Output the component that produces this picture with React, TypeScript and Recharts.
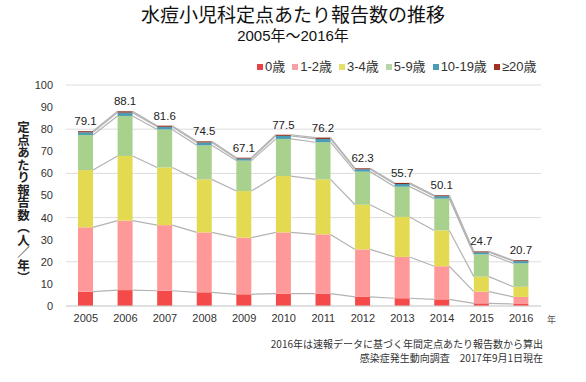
import React from 'react';
import { BarChart, Bar, XAxis, YAxis, CartesianGrid, LabelList } from 'recharts';

const years = ['2005', '2006', '2007', '2008', '2009', '2010', '2011', '2012', '2013', '2014', '2015', '2016'];
const age0 = [6.5, 7.2, 6.9, 6.2, 5.3, 5.6, 5.6, 4.1, 3.5, 3.0, 1.2, 0.9];
const age1to2 = [29.1, 31.4, 29.7, 27.1, 25.6, 27.7, 26.8, 21.5, 18.7, 15.0, 5.3, 3.2];
const age3to4 = [25.9, 29.3, 26.1, 24.0, 21.1, 25.5, 24.9, 20.2, 18.1, 16.2, 6.8, 4.6];
const age5to9 = [15.9, 18.1, 17.2, 15.4, 13.8, 16.8, 16.8, 15.0, 13.7, 14.4, 10.1, 10.6];
const age10to19 = [1.2, 1.5, 1.2, 1.3, 0.9, 1.4, 1.5, 1.1, 1.2, 1.1, 0.9, 1.0];
const age20plus = [0.5, 0.6, 0.5, 0.5, 0.4, 0.5, 0.6, 0.4, 0.5, 0.4, 0.4, 0.4];
const totals = [79.1, 88.1, 81.6, 74.5, 67.1, 77.5, 76.2, 62.3, 55.7, 50.1, 24.7, 20.7];
const yTicks = [0, 10, 20, 30, 40, 50, 60, 70, 80, 90, 100];

const series = [
  { key: 'age0', name: '0歳', color: '#f44a4a', legend: '#e8414a', values: age0 },
  { key: 'age1to2', name: '1-2歳', color: '#ff9999', legend: '#f4a0a5', values: age1to2 },
  { key: 'age3to4', name: '3-4歳', color: '#e3da52', legend: '#e5df6c', values: age3to4 },
  { key: 'age5to9', name: '5-9歳', color: '#a9d18e', legend: '#b5d6a7', values: age5to9 },
  { key: 'age10to19', name: '10-19歳', color: '#4a9bb3', legend: '#4a9bb5', values: age10to19 },
  { key: 'age20plus', name: '≥20歳', color: '#8e2c1a', legend: '#a0301f', values: age20plus },
];

const data = years.map((year, i) => {
  const row: any = { year, total: totals[i] };
  series.forEach((s) => (row[s.key] = s.values[i]));
  return row;
});

// running sums for the series lines between bars
const cum = series.map((_, s) =>
  years.map((__, i) => series.slice(0, s + 1).reduce((sum, t) => sum + t.values[i], 0))
);

const W = 586;
const H = 382;
const xAxisHeight = 30;
const yAxisWidth = 40;
const margin = { top: 85, right: 45, bottom: 46, left: 26 };
const plotW = W - margin.left - margin.right - yAxisWidth;
const plotH = H - margin.top - margin.bottom - xAxisHeight;
const Y_MAX = 100;
const step = plotW / years.length;
const pxPerUnit = plotH / Y_MAX;

const latin = '"Liberation Sans", Arial, "Noto Sans CJK JP", sans-serif';
const cjk = '"Noto Sans CJK JP", sans-serif';

const makeShape = (s: number) => (props: any) => {
  const { x, y, width, height, fill, payload } = props;
  const i = years.indexOf(payload.year);
  return (
    <g>
      <rect x={x} y={y} width={width} height={height} fill={fill} />
      {i >= 0 && i < years.length - 1 && (
        <line
          x1={x + width}
          y1={y}
          x2={x + step}
          y2={y + (cum[s][i] - cum[s][i + 1]) * pxPerUnit}
          stroke="#b3b3b3"
          strokeWidth={1.2}
        />
      )}
    </g>
  );
};

const App: React.FC = () => {
  return (
    <div style={{ position: 'absolute', left: 0, top: 0, width: W, height: H, background: '#fff', fontFamily: latin }}>
      <div style={{ position: 'absolute', left: 0, width: W, top: 4, textAlign: 'center', fontFamily: cjk, fontSize: 19, lineHeight: '19px', color: '#111' }}>
        水痘小児科定点あたり報告数の推移
      </div>
      <div style={{ position: 'absolute', left: 0, width: W, top: 28, textAlign: 'center', fontSize: 15, lineHeight: '15px', color: '#111' }}>
        2005年～2016年
      </div>

      <div style={{ position: 'absolute', left: 257, top: 60, display: 'flex', alignItems: 'center', fontSize: 13, lineHeight: '14px', color: '#333' }}>
        {series.map((s) => (
          <div key={s.key} style={{ display: 'flex', alignItems: 'center', marginRight: 7 }}>
            <span style={{ display: 'inline-block', width: 6, height: 6, background: s.legend, marginRight: 2 }} />
            <span>{s.name}</span>
          </div>
        ))}
      </div>

      <div style={{ position: 'absolute', left: 16, top: 121, writingMode: 'vertical-rl', fontFamily: cjk, fontSize: 12.5, fontWeight: 'bold', lineHeight: '14px', color: '#222' }}>
        定点あたり報告数（人／年）
      </div>

      <div style={{ position: 'absolute', top: 0, left: 0 }}>
        <BarChart width={W} height={H} data={data} margin={margin} barSize={15}>
          <CartesianGrid vertical={false} stroke="#dcdcdc" />
          <XAxis
            dataKey="year"
            height={xAxisHeight}
            tickLine={false}
            axisLine={{ stroke: '#d4d4d4' }}
            tickSize={0}
            tickMargin={8}
            tick={{ fontSize: 11, fill: '#333', fontFamily: latin }}
          />
          <YAxis
            width={yAxisWidth}
            domain={[0, Y_MAX]}
            ticks={yTicks}
            tickLine={false}
            axisLine={false}
            tickSize={0}
            tickMargin={13}
            tick={{ fontSize: 11, fill: '#333', fontFamily: latin }}
          />
          {series.map((s, idx) => (
            <Bar
              key={s.key}
              dataKey={s.key}
              name={s.name}
              stackId="a"
              fill={s.color}
              shape={makeShape(idx)}
              isAnimationActive={false}
            >
              {idx === series.length - 1 && (
                <LabelList dataKey="total" position="top" offset={6} style={{ fontSize: 11.5, fill: '#222', fontFamily: latin }} />
              )}
            </Bar>
          ))}
        </BarChart>
      </div>

      <div style={{ position: 'absolute', left: 547, top: 313, fontFamily: cjk, fontSize: 9, color: '#555' }}>年</div>

      <div style={{ position: 'absolute', right: W - 543, top: 337, textAlign: 'right', fontFamily: cjk, fontSize: 10, lineHeight: '14px', color: '#333', whiteSpace: 'nowrap' }}>
        <div>2016年は速報データに基づく年間定点あたり報告数から算出</div>
        <div>感染症発生動向調査　2017年9月1日現在</div>
      </div>
    </div>
  );
};

export default App;
